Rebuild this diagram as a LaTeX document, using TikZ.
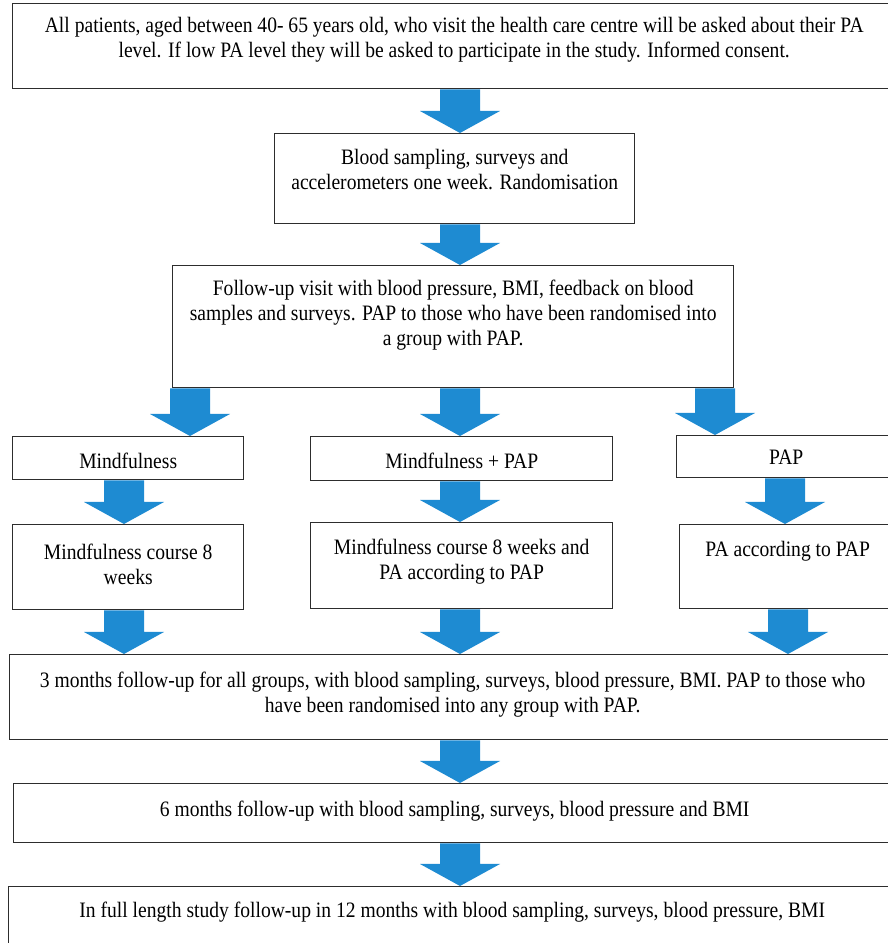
\documentclass[tikz,border=0pt]{standalone}
\usepackage{fontspec}
\setmainfont{Liberation Serif}[FakeStretch=0.89]
\usetikzlibrary{calc,positioning}
\definecolor{arrowblue}{RGB}{30,139,210}
\definecolor{boxline}{RGB}{45,45,45}
\tikzset{
every picture/.style={
line width=1.4pt
}}
% block arrow from a point on one box to a point on the next
\newcommand{\flowarrow}[2]{%
\fill[arrowblue] ($(#1)+(-20,0)$) -- ($(#2)+(-20,22)$) -- ($(#2)+(-40,22)$) -- (#2)
  -- ($(#2)+(40,22)$) -- ($(#2)+(20,22)$) -- ($(#1)+(20,0)$) -- cycle;}

\begin{document}
\begin{tikzpicture}[x=1pt, y=1pt,
box/.style = {rectangle, draw=boxline, anchor=north west, inner sep=0pt},
txt/.style = {align=center, inner sep=0pt, font=\fontsize{22}{25}\selectfont}]
\useasboundingbox (0,0) rectangle (888,943);
\clip (0,0) rectangle (888,943);

% boxes, top left corner at (x, 943-y)
\node[box, minimum width=883, minimum height=85] (intro) at (12,940) {};
\node[box, minimum width=360, minimum height=90] (sampling) at (274,810) {};
\node[box, minimum width=561, minimum height=122] (visit) at (172,678) {};
\node[box, minimum width=231, minimum height=43] (mind) at (12,507) {};
\node[box, minimum width=302, minimum height=44] (mindpap) at (310,507) {};
\node[box, minimum width=219, minimum height=42] (pap) at (676,508) {};
\node[box, minimum width=231, minimum height=85] (course) at (12,419) {};
\node[box, minimum width=302, minimum height=86] (coursepap) at (310,421) {};
\node[box, minimum width=216, minimum height=84] (papa) at (679,419) {};
\node[box, minimum width=886, minimum height=85] (three) at (9,289) {};
\node[box, minimum width=882, minimum height=59] (six) at (13,160) {};
\node[box, minimum width=887, minimum height=70] (twelve) at (8,57) {};

% texts
\node[txt, below=14 of intro.north] (introtext) {All patients, aged between 40- 65 years old, who visit the health care centre will be asked about their PA\\level. If low PA level they will be asked to participate in the study. Informed consent.};
\node[txt, below=16 of sampling.north] (samplingtext) {Blood sampling, surveys and\\accelerometers one week. Randomisation};
\node[txt, below=14 of visit.north] (visittext) {Follow-up visit with blood pressure, BMI, feedback on blood\\samples and surveys. PAP to those who have been randomised into\\a group with PAP.};
\node[txt, below=16 of mind.north] (mindtext) {Mindfulness};
\node[txt, below=16 of mindpap.north] (mindpaptext) {Mindfulness + PAP};
\node[txt, below=14 of pap.north] (paptext) {PAP};
\node[txt, below=19 of course.north] (coursetext) {Mindfulness course 8\\weeks};
\node[txt, below=16 of coursepap.north] (coursepaptext) {Mindfulness course 8 weeks and\\PA according to PAP};
\node[txt, below=17 of papa.north] (papatext) {PA according to PAP};
\node[txt, below=17 of three.north] (threetext) {3 months follow-up for all groups, with blood sampling, surveys, blood pressure, BMI. PAP to those who\\have been randomised into any group with PAP.};
\node[txt, below=17 of six.north] (sixtext) {6 months follow-up with blood sampling, surveys, blood pressure and BMI};
\node[txt, below=15 of twelve.north] (twelvetext) {In full length study follow-up in 12 months with blood sampling, surveys, blood pressure, BMI};

% arrow columns
\coordinate (colmid) at (460,0);
\coordinate (colleft) at (190,0);
\coordinate (colright) at (715,0);
\coordinate (coll) at (124,0);
\coordinate (colr) at (785,0);
\coordinate (colr2) at (788,0);

\flowarrow{intro.south -| colmid}{sampling.north -| colmid}
\flowarrow{sampling.south -| colmid}{visit.north -| colmid}
\flowarrow{visit.south -| colleft}{mind.north -| colleft}
\flowarrow{visit.south -| colmid}{mindpap.north -| colmid}
\flowarrow{visit.south -| colright}{pap.north -| colright}
\flowarrow{mind.south -| coll}{course.north -| coll}
\flowarrow{mindpap.south -| colmid}{coursepap.north -| colmid}
\flowarrow{pap.south -| colr}{papa.north -| colr}
\flowarrow{course.south -| coll}{three.north -| coll}
\flowarrow{coursepap.south -| colmid}{three.north -| colmid}
\flowarrow{papa.south -| colr2}{three.north -| colr2}
\flowarrow{three.south -| colmid}{six.north -| colmid}
\flowarrow{six.south -| colmid}{twelve.north -| colmid}
\end{tikzpicture}
\end{document}
